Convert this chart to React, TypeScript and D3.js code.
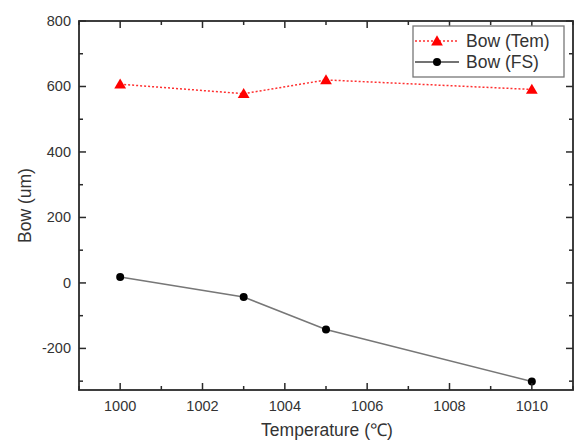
import React from "react";
import * as d3 from "d3";

const temps = [1000, 1003, 1005, 1010];
const bowTem = [607, 578, 620, 591];
const bowFS = [18, -43, -142, -301];
const xTicks = [1000, 1002, 1004, 1006, 1008, 1010];
const yTicks = [-200, 0, 200, 400, 600, 800];

const W = 575, H = 441;
const M = { left: 79, right: 2, top: 21, bottom: 51 };

export default function App() {
  const x = d3.scaleLinear().domain([999, 1011]).range([M.left, W - M.right]);
  const y = d3.scaleLinear().domain([-327, 800]).range([H - M.bottom, M.top]);
  const x0 = M.left, x1 = W - M.right, y0 = H - M.bottom, y1 = M.top;
  const xMinor = d3.range(999, 1012, 1);
  const yMinor = d3.range(-300, 801, 100);
  const line = d3.line<number>().x((_, i) => x(temps[i])).y((d) => y(d));
  const font = "Arial, 'Liberation Sans', sans-serif";
  const axisColor = "#2a2a2a";
  const tri = d3.symbol().type(d3.symbolTriangle).size(60)();

  return (
    <svg width={W} height={H} style={{ position: "absolute", left: 0, top: 0, background: "#fff" }} fontFamily={font}>
      {/* data lines */}
      <path d={line(bowTem) || ""} fill="none" stroke="#ff3030" strokeWidth={1.5} strokeDasharray="2,2" />
      <path d={line(bowFS) || ""} fill="none" stroke="#777" strokeWidth={1.6} />
      {bowTem.map((v, i) => (
        <path key={"t" + i} d={tri || ""} transform={`translate(${x(temps[i])},${y(v) + 1})`} fill="#ff0000" />
      ))}
      {bowFS.map((v, i) => (
        <circle key={"f" + i} cx={x(temps[i])} cy={y(v)} r={4} fill="#000" />
      ))}
      {/* frame */}
      <rect x={x0} y={y1} width={x1 - x0} height={y0 - y1} fill="none" stroke={axisColor} strokeWidth={1.8} />
      {/* x ticks */}
      {xMinor.map((t) => {
        const major = t % 2 === 0;
        const len = major ? 7 : 4;
        return (
          <g key={"xt" + t}>
            <line x1={x(t)} x2={x(t)} y1={y0} y2={y0 - len} stroke={axisColor} strokeWidth={1.5} />
            <line x1={x(t)} x2={x(t)} y1={y1} y2={y1 + len} stroke={axisColor} strokeWidth={1.5} />
          </g>
        );
      })}
      {yMinor.map((t) => {
        const major = t % 200 === 0;
        const len = major ? 7 : 4;
        return (
          <g key={"yt" + t}>
            <line x1={x0} x2={x0 + len} y1={y(t)} y2={y(t)} stroke={axisColor} strokeWidth={1.5} />
            <line x1={x1} x2={x1 - len} y1={y(t)} y2={y(t)} stroke={axisColor} strokeWidth={1.5} />
          </g>
        );
      })}
      {xTicks.map((t) => (
        <text key={"xl" + t} x={x(t)} y={y0 + 21} textAnchor="middle" fontSize={14.5} fill="#333">{t}</text>
      ))}
      {yTicks.map((t) => (
        <text key={"yl" + t} x={x0 - 8} y={y(t) + 5} textAnchor="end" fontSize={14.5} fill="#333">{t}</text>
      ))}
      <text x={(x0 + x1) / 2 + 1} y={436} textAnchor="middle" fontSize={17.5} fill="#333">Temperature (℃)</text>
      <text transform={`translate(31,${(y0 + y1) / 2}) rotate(-90)`} textAnchor="middle" fontSize={17.5} fill="#333">Bow (um)</text>
      {/* legend */}
      <rect x={413} y={26} width={151} height={51} fill="#fff" stroke="#777" strokeWidth={1.3} />
      <line x1={415} x2={459} y1={41} y2={41} stroke="#ff3030" strokeWidth={1.5} strokeDasharray="2,2" />
      <path d={tri || ""} transform={`translate(437,42)`} fill="#ff0000" />
      <text x={466} y={47} fontSize={17.5} fill="#333">Bow (Tem)</text>
      <line x1={415} x2={459} y1={62} y2={62} stroke="#444" strokeWidth={1.6} />
      <circle cx={437} cy={62} r={4} fill="#000" />
      <text x={466} y={68} fontSize={17.5} fill="#333">Bow (FS)</text>
    </svg>
  );
}
